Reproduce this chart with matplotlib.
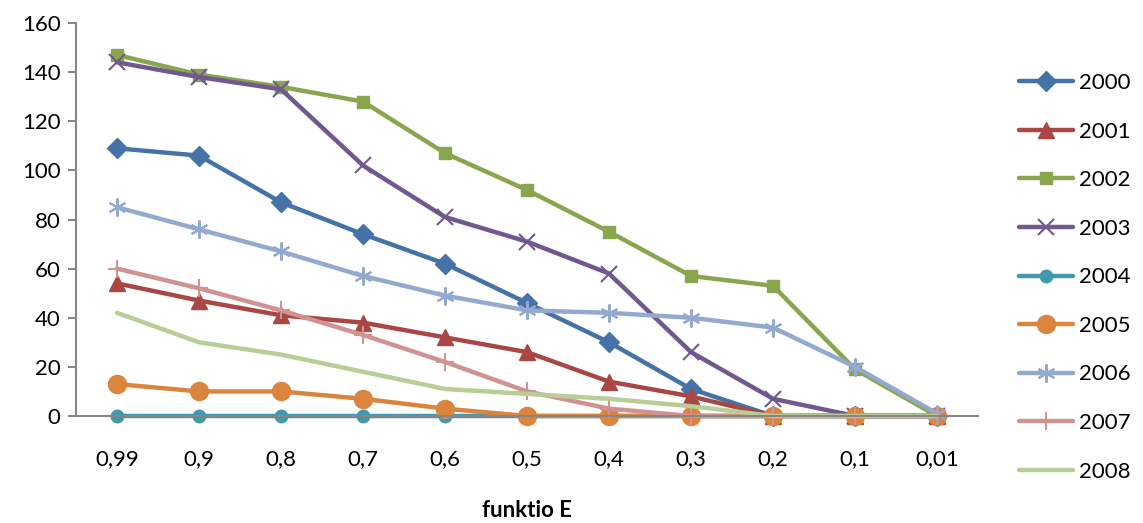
import matplotlib
matplotlib.use("Agg")
import matplotlib.pyplot as plt

plt.rcParams['font.family'] = ['Lato', 'DejaVu Sans']

# x categories (values of E)
categories = ['0,99', '0,9', '0,8', '0,7', '0,6', '0,5', '0,4', '0,3', '0,2', '0,1', '0,01']

y2000 = [109, 106, 87, 74, 62, 46, 30, 11, 0, 0, 0]
y2001 = [54, 47, 41, 38, 32, 26, 14, 8, 0, 0, 0]
y2002 = [147, 139, 134, 128, 107, 92, 75, 57, 53, 19, 0]
y2003 = [144, 138, 133, 102, 81, 71, 58, 26, 7, 0, 0]
y2004 = [0, 0, 0, 0, 0, 0, 0, 0, 0, 0, 0]
y2005 = [13, 10, 10, 7, 3, 0, 0, 0, 0, 0, 0]
y2006 = [85, 76, 67, 57, 49, 43, 42, 40, 36, 20, 1]
y2007 = [60, 52, 43, 33, 22, 10, 3, 0, 0, 0, 0]
y2008 = [42, 30, 25, 18, 11, 9, 7, 4, 0, 0, 0]

years = ['2000', '2001', '2002', '2003', '2004', '2005', '2006', '2007', '2008']
series = [y2000, y2001, y2002, y2003, y2004, y2005, y2006, y2007, y2008]

# colour, marker, marker size, marker edge width
styles = [
    ('#4572A7', 'D', 10, 1),
    ('#AA4643', '^', 12, 1),
    ('#89A54E', 's', 9, 1),
    ('#71588F', 'x', 12, 1.5),
    ('#4198AF', 'o', 9, 1),
    ('#DB843D', 'o', 13, 1),
    ('#93A9CF', (6, 2, 0), 13, 1.5),
    ('#D19392', '+', 13, 1.5),
    ('#B9CD96', None, 0, 0),
]

FS = 16

fig = plt.figure(figsize=(11.43, 5.23), dpi=100)
ax = fig.add_axes([0.0665, 0.2046, 0.7892, 0.7514])

x = list(range(len(categories)))
for yr, vals, (c, m, ms, mew) in zip(years, series, styles):
    ax.plot(x, vals, color=c, lw=3.2, marker=m, markersize=ms,
            markeredgewidth=mew, markeredgecolor=c, markerfacecolor=c,
            label=yr, solid_capstyle='round', clip_on=False)

ax.set_xlim(-0.5, 10.5)
ax.set_ylim(0, 160)
ax.set_yticks(range(0, 161, 20))
ax.set_xticks(x)
ax.set_xticklabels(categories)
ax.tick_params(axis='x', length=0, pad=24, labelsize=FS)
ax.tick_params(axis='y', length=6, width=1.5, color='#868686', labelsize=FS, pad=5)

for s in ['top', 'right']:
    ax.spines[s].set_visible(False)
for s in ['left', 'bottom']:
    ax.spines[s].set_color('#868686')
    ax.spines[s].set_linewidth(1.5)

ax.set_xlabel('funktio E', fontsize=FS, fontweight='bold', labelpad=22)

ax.legend(loc='upper left', bbox_to_anchor=(1.035, 0.895), frameon=False,
          fontsize=FS, handlelength=2.45, handletextpad=0.25,
          labelspacing=1.285, borderaxespad=0)

fig.savefig('out.png', dpi=100)
